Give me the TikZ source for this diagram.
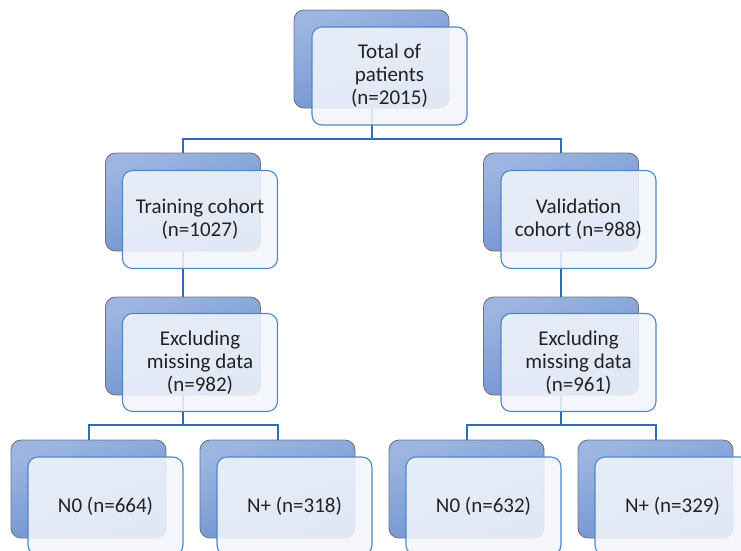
\documentclass[tikz,border=0pt]{standalone}
\usepackage{fontspec}
\setmainfont{Carlito}
\definecolor{backtop}{HTML}{9DB5E1}
\definecolor{backbot}{HTML}{6A8ECF}
\definecolor{backedge}{HTML}{747474}
\definecolor{frontfill}{HTML}{F2F5FB}
\definecolor{frontedge}{HTML}{4A8ACB}
\definecolor{connblue}{HTML}{2F6EB5}
\definecolor{txt}{HTML}{222222}
\tikzset{
  backbox/.style={draw=backedge, line width=0.9pt, rounded corners=10pt,
    top color=backtop, bottom color=backbot, shading angle=20,
    minimum width=155pt, minimum height=98pt, inner sep=0pt},
  frontbox/.style={draw=frontedge, line width=1.1pt, rounded corners=10pt,
    fill=frontfill, fill opacity=0.88, text opacity=1, text=txt,
    minimum width=155pt, minimum height=98pt, inner sep=0pt,
    align=center, font=\fontsize{21}{23}\selectfont},
  conn/.style={draw=connblue, line width=2pt}
}
\begin{document}
\begin{tikzpicture}[x=1pt,y=-1pt]
\useasboundingbox (0,0) rectangle (741,550);
\clip (0,0) rectangle (741,550);
% back boxes
\node[backbox] (totb) at (371.5,59) {};
\node[backbox] (trb) at (183,202) {};
\node[backbox] (vab) at (561,202) {};
\node[backbox] (elb) at (183,346) {};
\node[backbox] (erb) at (561,346) {};
\node[backbox] (b1b) at (88.5,489) {};
\node[backbox] (b2b) at (277.5,489) {};
\node[backbox] (b3b) at (466.5,489) {};
\node[backbox] (b4b) at (655.5,489) {};
% connectors
\draw[conn] (totb.south) -- ++(0,31) -| (trb.north);
\draw[conn] (totb.south) -- ++(0,31) -| (vab.north);
\draw[conn] (trb.south) -- (elb.north);
\draw[conn] (vab.south) -- (erb.north);
\draw[conn] (elb.south) -- ++(0,30) -| (b1b.north);
\draw[conn] (elb.south) -- ++(0,30) -| (b2b.north);
\draw[conn] (erb.south) -- ++(0,30) -| (b3b.north);
\draw[conn] (erb.south) -- ++(0,30) -| (b4b.north);
% front boxes
\node[frontbox] (tot) at (389.5,76) {Total of\\patients\\(n=2015)};
\node[frontbox] (tr) at (200,219.5) {Training cohort\\(n=1027)};
\node[frontbox] (va) at (578.5,219.5) {Validation\\cohort (n=988)};
\node[frontbox] (el) at (200,362.5) {Excluding\\missing data\\(n=982)};
\node[frontbox] (er) at (578.5,362.5) {Excluding\\missing data\\(n=961)};
\node[frontbox] (b1) at (105.5,506) {N0 (n=664)};
\node[frontbox] (b2) at (294.5,506) {N+ (n=318)};
\node[frontbox] (b3) at (483.5,506) {N0 (n=632)};
\node[frontbox] (b4) at (672.5,506) {N+ (n=329)};
\end{tikzpicture}
\end{document}
